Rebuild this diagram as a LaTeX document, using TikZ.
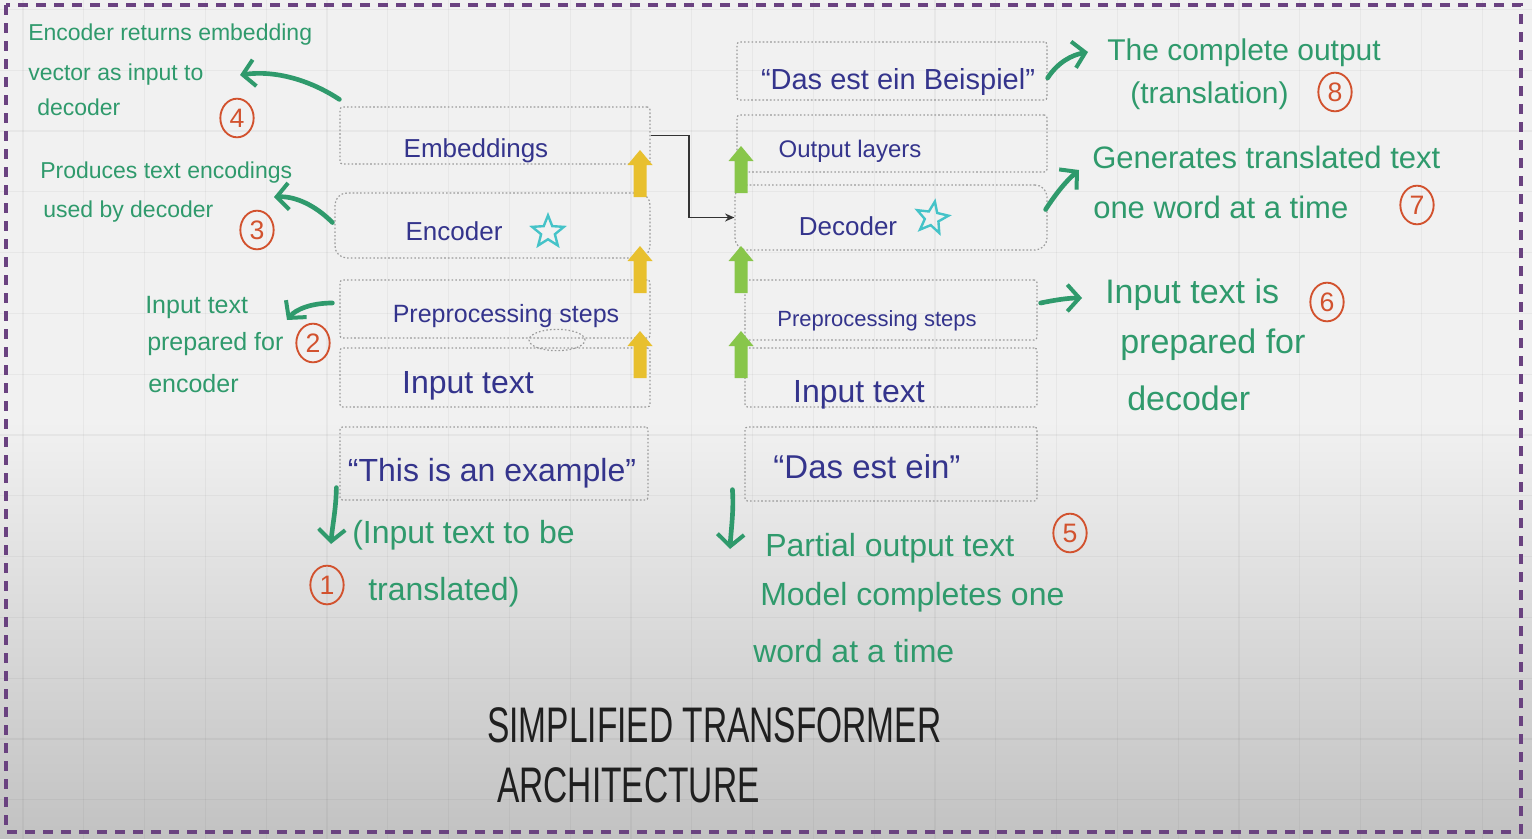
\documentclass[tikz,border=0pt]{standalone}
\usepackage{fontspec}
\setmainfont{Liberation Sans}
\usetikzlibrary{arrows.meta,fit,shapes.geometric,calc}
\definecolor{ink}{HTML}{34348C}
\definecolor{ann}{HTML}{2F9A6C}
\definecolor{numc}{HTML}{D2522E}
\definecolor{yel}{HTML}{E8C02E}
\definecolor{lgreen}{HTML}{88C64A}
\definecolor{starc}{HTML}{45C3C8}
\definecolor{framec}{HTML}{6A4280}
\definecolor{boxline}{HTML}{9A9A9A}
\definecolor{bgtop}{HTML}{F1F1F1}
\definecolor{bgbot}{HTML}{C2C2C2}
\newcommand\fsz[1]{\fontsize{#1}{#1}\selectfont}
\begin{document}
\begin{tikzpicture}[x=0.75pt,y=-0.75pt,
  lbl/.style={text=ink, inner sep=0pt, anchor=base},
  note/.style={text=ann, inner sep=0pt, anchor=base west},
  numring/.style={ellipse, draw=numc, text=numc, line width=1.4pt, minimum width=25pt, minimum height=29pt, inner sep=0pt, font=\fsz{20}},
  box/.style={draw=boxline, line width=0.9pt, dash pattern=on 1.2pt off 1.6pt, inner sep=0pt, rounded corners=2pt},
  rbox/.style={box, rounded corners=9pt},
  nota/.style={draw=ann, line width=3.5pt, line cap=round, -{Straight Barb[length=9pt,width=20pt,line width=3pt]}},
  link/.style={draw=black!80, line width=1.3pt, -{Stealth[length=7pt,width=6pt]}},
  starmark/.style={star, star points=5, star point ratio=2.3, draw=starc, line width=1.8pt, minimum size=25pt, inner sep=0pt},
  blockup/.pic={\fill[pic actions] (-6.5,0) -- (-6.5,-32) -- (-12.5,-32) -- (0,-47) -- (12.5,-32) -- (6.5,-32) -- (6.5,0) -- cycle;},
  gridline/.style={draw=black, opacity=0.04, line width=0.8pt}
]
\useasboundingbox (0,0) rectangle (1532,839);
% background
\fill[bgtop] (0,0) rectangle (1532,421);
\shade[top color=bgtop, bottom color=bgbot] (0,420) rectangle (1532,839);
\foreach \i in {0,...,24} \draw[gridline] ({23+60.8*\i},0) -- ({23+60.8*\i},839);
\foreach \j in {0,...,13} \draw[gridline] (0,{9.4+60.8*\j}) -- (1532,{9.4+60.8*\j});
\draw[framec, line width=2.4pt, dash pattern=on 7.5pt off 6pt] (6,5) rectangle (1521,832);

% left column boxes
\node[box, fit={(340,107) (650,164)}] (emb) {};
\node[rbox, fit={(335,193) (650,258)}] (enc) {};
\node[box, fit={(340,280) (650,338)}] (pre) {};
\node[box, fit={(340,348) (650,407)}] (inp) {};
\node[box, fit={(340,427) (648,500)}] (ex) {};
% right column boxes
\node[box, fit={(737,42) (1047,100)}] (beis) {};
\node[box, fit={(737,115) (1047,172)}] (outl) {};
\node[rbox, fit={(735,185) (1047,250)}] (dec) {};
\node[box, fit={(745,280) (1037,340)}] (pre2) {};
\node[box, fit={(745,348) (1037,407)}] (inp2) {};
\node[box, fit={(745,427) (1037,501)}] (das) {};

% lasso mark
\draw[boxline, line width=0.9pt, dash pattern=on 1.2pt off 1.6pt] (557,340) ellipse [x radius=21pt, y radius=8pt];

% box labels
\node[lbl, font=\fsz{19.5}] (embt) at (476,157) {Embeddings};
\node[lbl, font=\fsz{19.5}] (enct) at (454,240) {Encoder};
\node[lbl, font=\fsz{18.75}] (pret) at (506,322) {Preprocessing steps};
\node[lbl, font=\fsz{24}] (inpt) at (468,393) {Input text};
\node[lbl, font=\fsz{24}] (ext) at (492,481) {“This is an example”};
\node[lbl, font=\fsz{21.75}] (beist) at (898,89) {“Das est ein Beispiel”};
\node[lbl, font=\fsz{18}] (outlt) at (850,157) {Output layers};
\node[lbl, font=\fsz{19.5}] (dect) at (848,235) {Decoder};
\node[lbl, font=\fsz{16.5}] (pre2t) at (877,326) {Preprocessing steps};
\node[lbl, font=\fsz{24}] (inp2t) at (859,402) {Input text};
\node[lbl, font=\fsz{24.75}] (dast) at (867,478) {“Das est ein”};

% stars
\node[starmark] (s1) at (548,232) {};
\node[starmark, rotate=-10] (s2) at (932,218) {};

% block arrows
\pic[fill=yel] at (640,197) {blockup};
\pic[fill=yel] at (640,293) {blockup};
\pic[fill=yel] at (640,378) {blockup};
\pic[fill=lgreen] at (741,193) {blockup};
\pic[fill=lgreen] at (741,293) {blockup};
\pic[fill=lgreen] at (741,378) {blockup};

% link embeddings -> decoder
\coordinate (elbowx) at (689,0);
\draw[link] (emb.east) -- (emb.east -| elbowx) |- (dec.west);

% notes
\node[note, font=\fsz{17.25}] (n4a) at (28,40) {Encoder returns embedding};
\node[note, font=\fsz{17.25}] (n4b) at (28,80) {vector as input to};
\node[note, font=\fsz{17.25}] (n4c) at (37,115) {decoder};
\node[note, font=\fsz{17.25}] (n3a) at (40,178) {Produces text encodings};
\node[note, font=\fsz{17.25}] (n3b) at (43,217) {used by decoder};
\node[note, font=\fsz{18.75}] (n2a) at (145,313) {Input text};
\node[note, font=\fsz{18.75}] (n2b) at (147,350) {prepared for};
\node[note, font=\fsz{18.75}] (n2c) at (148,392) {encoder};
\node[note, font=\fsz{24}] (n1a) at (352,543) {(Input text to be};
\node[note, font=\fsz{24}] (n1b) at (368,600) {translated)};
\node[note, font=\fsz{24}] (n5a) at (765,556) {Partial output text};
\node[note, font=\fsz{24}] (n5b) at (760,605) {Model completes one};
\node[note, font=\fsz{24}] (n5c) at (753,662) {word at a time};
\node[note, font=\fsz{25.5}] (n6a) at (1105,303) {Input text is};
\node[note, font=\fsz{25.5}] (n6b) at (1120,353) {prepared for};
\node[note, font=\fsz{25.5}] (n6c) at (1127,410) {decoder};
\node[note, font=\fsz{23.25}] (n7a) at (1092,168) {Generates translated text};
\node[note, font=\fsz{23.25}] (n7b) at (1093,218) {one word at a time};
\node[note, font=\fsz{22.5}] (n8a) at (1107,60) {The complete output};
\node[note, font=\fsz{22.5}] (n8b) at (1130,103) {(translation)};

% numbers
\node[numring] (c1) at (327,585) {1};
\node[numring] (c2) at (313,343) {2};
\node[numring] (c3) at (257,230) {3};
\node[numring] (c4) at (237,118) {4};
\node[numring] (c5) at (1070,533) {5};
\node[numring] (c6) at (1327,302) {6};
\node[numring] (c7) at (1417,205) {7};
\node[numring] (c8) at (1335,92) {8};

% annotation arrows
\coordinate (t4) at (240,75);
\coordinate (t3) at (274,197);
\coordinate (t2) at (287,320);
\coordinate (t1) at (331,544);
\coordinate (t5) at (730,549);
\coordinate (t6) at (1082,298);
\coordinate (t7) at (1079,170);
\coordinate (t8) at (1088,52);
\draw[nota] ($(emb.north west)+(0,-7)$) .. controls (310,80) and (275,70) .. (t4);
\draw[nota] ($(enc.west)+(-2,-3)$) .. controls (315,205) and (295,196) .. (t3);
\draw[nota] ($(pre.west)+(-7,-6)$) .. controls (312,303) and (296,309) .. (t2);
\draw[nota] ($(ex.south west)+(-3,-13)$) .. controls (336,510) and (332,528) .. (t1);
\draw[nota] ($(das.south west)+(-12,-12)$) .. controls (734,510) and (731,530) .. (t5);
\draw[nota] ($(pre2.east)+(3,-7)$) .. controls (1055,300) and (1068,298) .. (t6);
\draw[nota] ($(dec.east)+(-2,-8)$) .. controls (1055,195) and (1065,182) .. (t7);
\draw[nota] ($(beis.east)+(0,7)$) .. controls (1058,62) and (1072,55) .. (t8);

% title
\node[anchor=base west, inner sep=0pt, text=black!88, font=\fsz{37.5}] (ttl1) at (487,742) {\scalebox{0.67}[1]{SIMPLIFIED TRANSFORMER}};
\node[anchor=base west, inner sep=0pt, text=black!88, font=\fsz{37.5}] (ttl2) at (497,802) {\scalebox{0.67}[1]{ARCHITECTURE}};
\end{tikzpicture}
\end{document}
